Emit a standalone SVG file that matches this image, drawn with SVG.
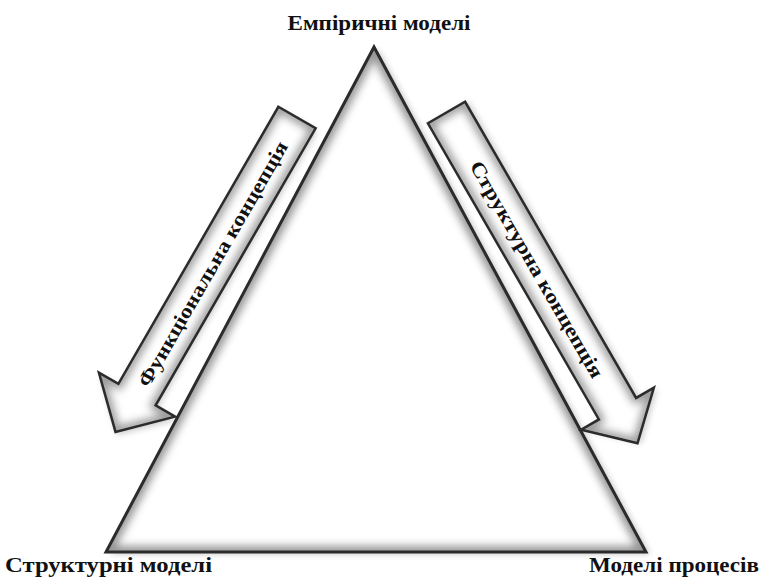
<svg xmlns="http://www.w3.org/2000/svg" width="763" height="580" viewBox="0 0 763 580">
  <style>
    text { font-family: 'Liberation Serif', 'Times New Roman', serif; font-weight: bold; font-size: 20px; fill: #111; }
    .glow { fill: none; stroke: #000; stroke-width: 12; stroke-opacity: 0.42; }
    .aglow { fill: none; stroke: #000; stroke-width: 10; stroke-opacity: 0.4; }
    .line { fill: none; stroke: #2b2b2b; }
  </style>
  <defs>
    <filter id="blur" x="-20%" y="-20%" width="140%" height="140%">
      <feGaussianBlur stdDeviation="4"/>
    </filter>
    <filter id="sblur" x="-20%" y="-20%" width="140%" height="140%">
      <feGaussianBlur stdDeviation="3"/>
    </filter>
    <polygon id="tri" points="374,47 106,552 646,552"/>
    <path id="arrL" d="M -21.5 0 L 21.5 0 L 21.5 320 L 44 320 L 0 363 L -44 320 L -21.5 320 Z"/>
    <path id="arrR" d="M -21.5 0 L 21.5 0 L 21.5 342 L 42 342 L 0 382 L -42 342 L -21.5 342 Z"/>
    <clipPath id="clipTri"><use href="#tri"/></clipPath>
    <clipPath id="clipL"><use href="#arrL"/></clipPath>
    <clipPath id="clipR"><use href="#arrR"/></clipPath>
  </defs>

  <g id="triangle">
    <use href="#tri" fill="#000" opacity="0.22" filter="url(#sblur)" transform="translate(4,2)"/>
    <use href="#tri" fill="#fff"/>
    <g clip-path="url(#clipTri)">
      <use href="#tri" class="glow" filter="url(#blur)"/>
    </g>
    <use href="#tri" class="line" stroke-width="3"/>
  </g>

  <g id="connectors">
    <g id="arrow-functional" transform="translate(297,117.5) rotate(30)">
      <use href="#arrL" fill="#000" opacity="0.2" filter="url(#sblur)" transform="translate(3,2)"/>
      <use href="#arrL" fill="#fff"/>
      <g clip-path="url(#clipL)">
        <use href="#arrL" class="aglow" filter="url(#blur)"/>
      </g>
      <use href="#arrL" class="line" stroke-width="2.5"/>
      <text transform="translate(0,169) rotate(-90)" text-anchor="middle" dominant-baseline="central" textLength="280" lengthAdjust="spacingAndGlyphs">Функціональна концепція</text>
    </g>
    <g id="arrow-structural" transform="translate(446.5,112.5) rotate(-30)">
      <use href="#arrR" fill="#000" opacity="0.2" filter="url(#sblur)" transform="translate(3,2)"/>
      <use href="#arrR" fill="#fff"/>
      <g clip-path="url(#clipR)">
        <use href="#arrR" class="aglow" filter="url(#blur)"/>
      </g>
      <use href="#arrR" class="line" stroke-width="2.5"/>
      <text transform="translate(0,181) rotate(90)" text-anchor="middle" dominant-baseline="central" textLength="247" lengthAdjust="spacingAndGlyphs">Структурна  концепція</text>
    </g>
  </g>

  <g id="node-empirical">
    <text x="379" y="30" text-anchor="middle" textLength="183" lengthAdjust="spacingAndGlyphs">Емпіричні моделі</text>
  </g>
  <g id="node-structural">
    <text x="5" y="572" textLength="207" lengthAdjust="spacingAndGlyphs">Структурні моделі</text>
  </g>
  <g id="node-process">
    <text x="589" y="572" textLength="170" lengthAdjust="spacingAndGlyphs">Моделі процесів</text>
  </g>
</svg>
